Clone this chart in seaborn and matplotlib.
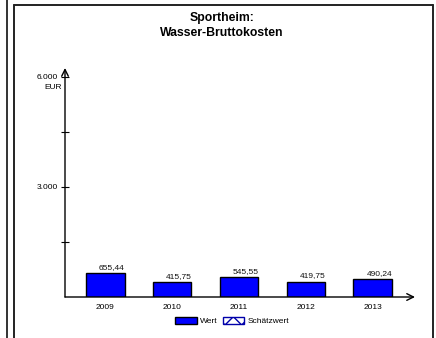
import matplotlib.pyplot as plt
import pandas as pd
import seaborn as sns
from matplotlib.lines import Line2D
from matplotlib.patches import Patch

YEARS = ["2009", "2010", "2011", "2012", "2013"]
WERT = [655.44, 415.75, 545.55, 419.75, 490.24]
VALUE_LABELS = ["655,44", "415,75", "545,55", "419,75", "490,24"]
Y_TICKS = [1500, 3000, 4500, 6000]
Y_TICK_LABELS = ["", "3.000", "", "6.000"]
TITLE = "Sportheim:\nWasser-Bruttokosten"
LEGEND_LABELS = ["Wert", "Schätzwert"]

W, H = 436, 338


def px(x, y):
    return x / W, 1 - y / H


def main() -> None:
    sns.set_theme(style="white")
    plt.rcParams["font.family"] = ["Liberation Sans", "DejaVu Sans"]
    plt.rcParams["text.color"] = "black"
    plt.rcParams["xtick.color"] = "black"
    plt.rcParams["ytick.color"] = "black"

    fig = plt.figure(figsize=(W / 100, H / 100), dpi=100)

    # panel frames
    for xs, ys, col, lw in [
        ([7, 7], [0, H], "#333333", 1.4),
        ([14, 14], [H, 5], "#222222", 1.4),
        ([14, 433], [5, 5], "#222222", 1.4),
        ([433, 433], [5, H], "#222222", 1.4),
    ]:
        fig.add_artist(Line2D([x / W for x in xs], [1 - y / H for y in ys],
                              color=col, linewidth=lw, transform=fig.transFigure))

    left, bottom = px(65, 297)
    right, top = px(415, 68)
    ax = fig.add_axes([left, bottom, right - left, top - bottom])

    df = pd.DataFrame({"Jahr": YEARS, "Wert": WERT})
    sns.barplot(data=df, x="Jahr", y="Wert", color="#0000FF", saturation=1,
                width=0.58, edgecolor="black", linewidth=1.0, ax=ax)

    for i, (v, lab) in enumerate(zip(WERT, VALUE_LABELS)):
        ax.text(i + 0.1, v + 60, lab, ha="center", va="bottom", fontsize=6, color="#111111")

    ax.set_xlim(-0.6, 4.63)
    ax.set_ylim(0, 6245)
    ax.set_xlabel("")
    ax.set_ylabel("")
    for s in ax.spines.values():
        s.set_visible(False)
    ax.patch.set_alpha(0)

    ax.annotate("", xy=(0, 1), xytext=(0, 0), xycoords="axes fraction",
                arrowprops=dict(arrowstyle="->", color="black", lw=1.0, shrinkA=0, shrinkB=0))
    ax.annotate("", xy=(1, 0), xytext=(0, 0), xycoords="axes fraction",
                arrowprops=dict(arrowstyle="->", color="black", lw=1.0, shrinkA=0, shrinkB=0))

    ax.set_yticks(Y_TICKS)
    ax.set_yticklabels(Y_TICK_LABELS)
    ax.tick_params(axis="y", direction="inout", length=6, width=0.8, labelsize=6,
                   pad=2, left=True)
    ax.tick_params(axis="x", length=0, labelsize=6, pad=5)
    ax.text(-0.01, 6000 - 180, "EUR", transform=ax.get_yaxis_transform(),
            ha="right", va="top", fontsize=6)

    fig.text(222 / W, 1 - 12 / H, TITLE, ha="center", va="top", fontsize=8.8,
             fontweight="bold", linespacing=1.35)

    handles = [
        Patch(facecolor="#0000FF", edgecolor="black", linewidth=1.0),
        Patch(facecolor="white", edgecolor="#0000AA", hatch="xx", linewidth=1.0),
    ]
    fig.legend(handles, LEGEND_LABELS, loc="center", bbox_to_anchor=(232 / W, 1 - 321 / H),
               ncol=2, frameon=False, fontsize=6, handlelength=2.6, handleheight=1.0,
               columnspacing=0.6, handletextpad=0.4)

    fig.savefig("out.png", dpi=100)
    plt.close(fig)


if __name__ == "__main__":
    main()
